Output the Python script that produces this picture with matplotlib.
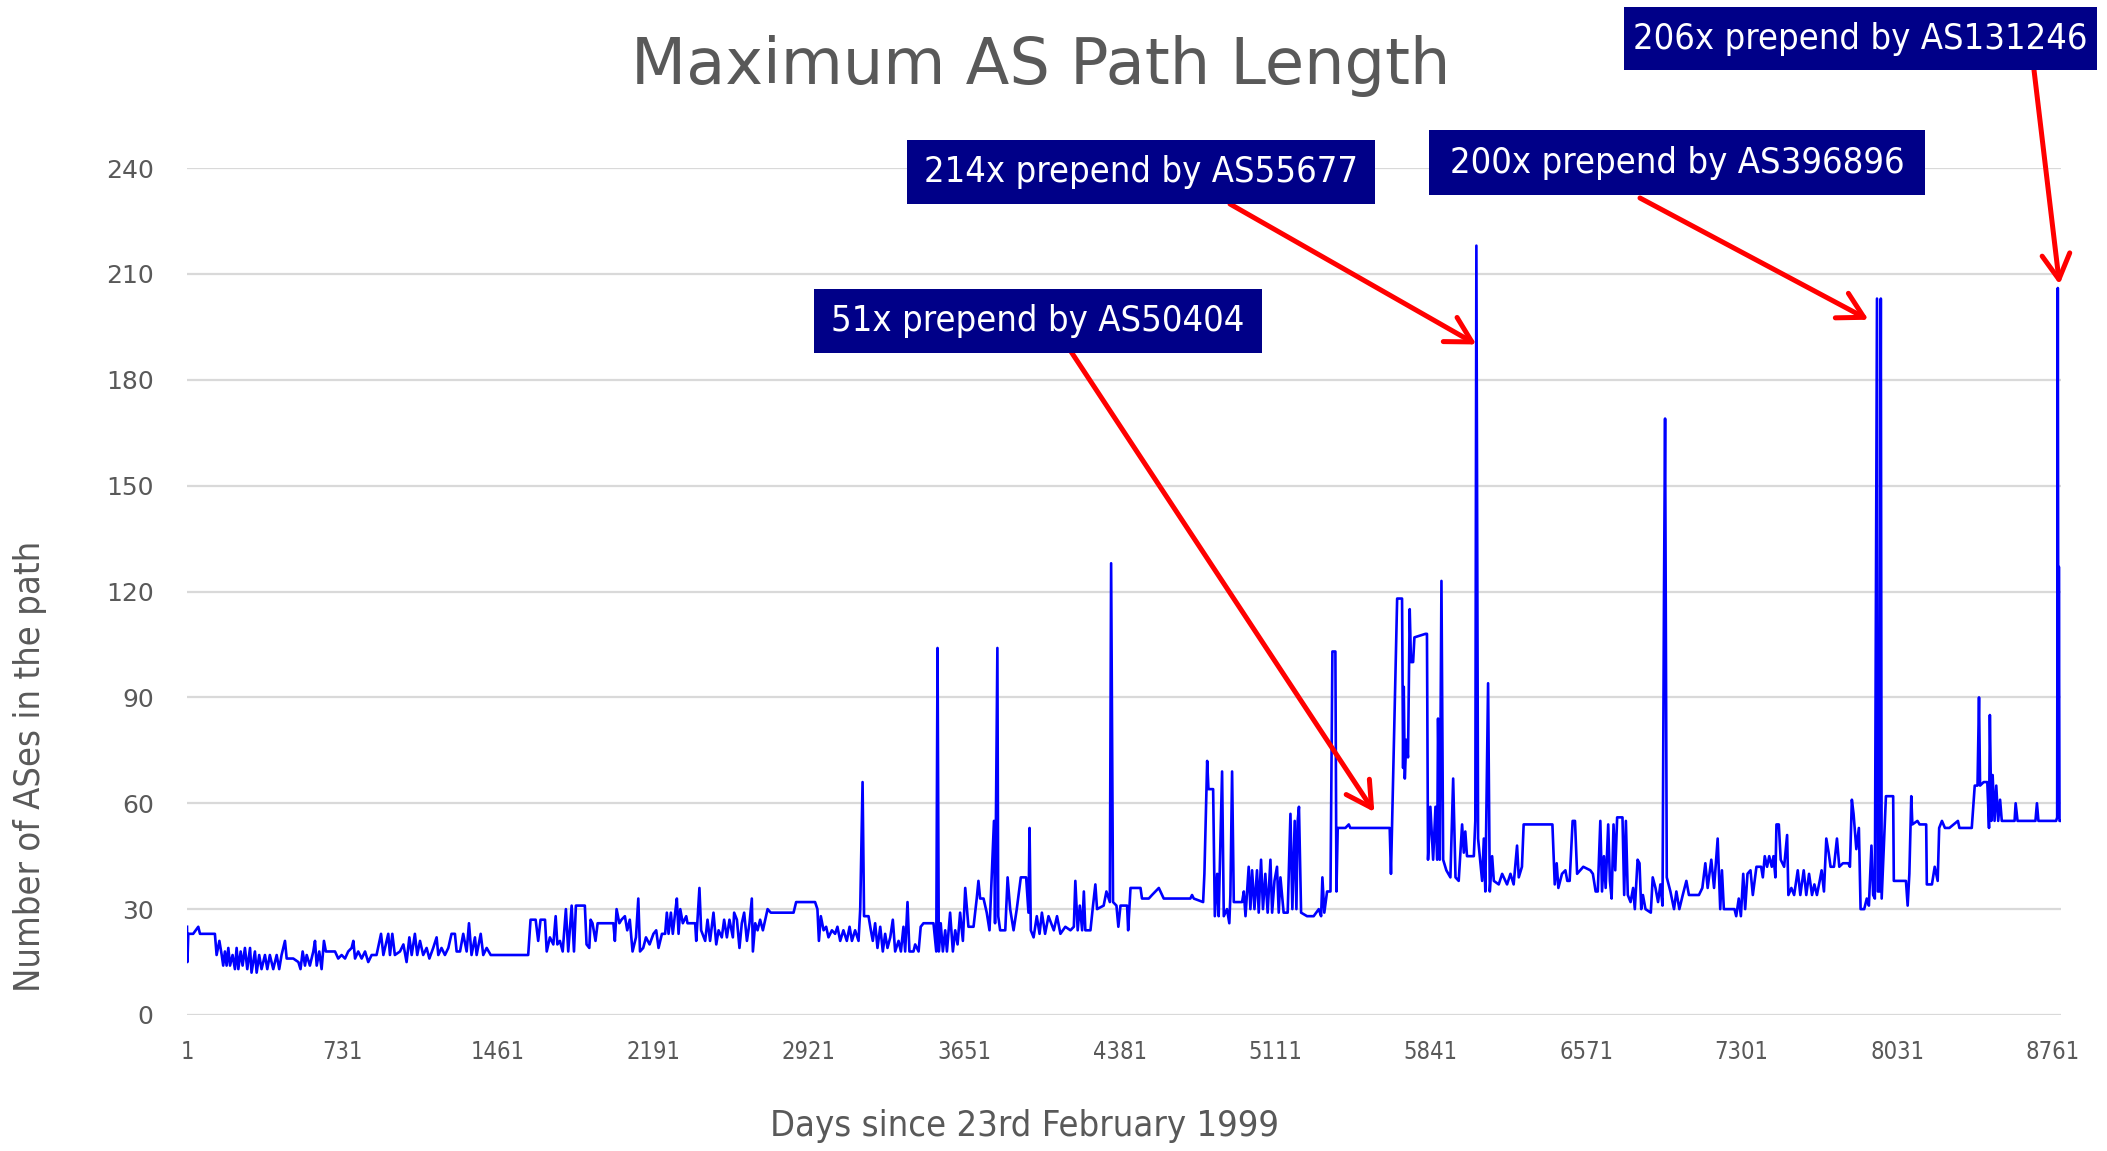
import matplotlib.pyplot as plt
from matplotlib.patches import Rectangle

# daily maximum AS path length (day index since 23 Feb 1999, number of ASes)
days = [
    1, 3, 7, 18, 30, 54, 62, 132, 140, 153, 164, 171, 179, 187, 195, 203, 215, 226, 234, 242,
    253, 262, 273, 284, 297, 304, 320, 328, 340, 351, 367, 378, 390, 406, 422, 434, 445, 461, 469, 500,
    524, 534, 544, 555, 563, 578, 594, 602, 610, 622, 633, 644, 653, 696, 711, 727, 743, 758, 774, 782,
    790, 805, 821, 837, 852, 868, 891, 912, 923, 946, 954, 965, 977, 1001, 1017, 1032, 1045, 1056, 1071, 1082,
    1095, 1110, 1126, 1139, 1157, 1173, 1181, 1196, 1212, 1228, 1243, 1259, 1267, 1283, 1298, 1314, 1325, 1337, 1353, 1361,
    1380, 1392, 1408, 1427, 1463, 1486, 1603, 1614, 1627, 1638, 1650, 1661, 1682, 1690, 1705, 1721, 1732, 1740, 1752, 1765,
    1780, 1791, 1807, 1818, 1827, 1869, 1877, 1890, 1896, 1905, 1919, 1929, 2003, 2010, 2018, 2031, 2041, 2057, 2068, 2080,
    2093, 2109, 2120, 2128, 2143, 2156, 2173, 2191, 2204, 2215, 2231, 2246, 2254, 2262, 2273, 2282, 2293, 2301, 2309, 2317,
    2329, 2345, 2351, 2387, 2392, 2407, 2415, 2434, 2445, 2457, 2473, 2486, 2497, 2512, 2523, 2536, 2548, 2564, 2570, 2583,
    2595, 2606, 2617, 2630, 2642, 2653, 2658, 2669, 2680, 2692, 2705, 2716, 2727, 2742, 2849, 2861, 2935, 2950, 2961, 2968,
    2977, 2990, 3002, 3013, 3029, 3044, 3055, 3068, 3083, 3099, 3112, 3123, 3138, 3154, 3162, 3173, 3180, 3201, 3212, 3221,
    3232, 3243, 3256, 3268, 3279, 3290, 3303, 3315, 3326, 3342, 3353, 3365, 3373, 3384, 3393, 3412, 3420, 3436, 3446, 3459,
    3506, 3519, 3525, 3531, 3540, 3550, 3561, 3569, 3584, 3597, 3608, 3619, 3631, 3644, 3655, 3670, 3694, 3709, 3717, 3725,
    3741, 3756, 3769, 3790, 3795, 3806, 3810, 3819, 3843, 3854, 3866, 3882, 3897, 3916, 3941, 3952, 3957, 3963, 3976, 3991,
    4004, 4015, 4030, 4046, 4071, 4086, 4102, 4125, 4149, 4165, 4172, 4183, 4193, 4204, 4212, 4219, 4243, 4255, 4266, 4274,
    4305, 4318, 4334, 4340, 4349, 4365, 4374, 4384, 4415, 4420, 4431, 4478, 4485, 4517, 4532, 4564, 4587, 4712, 4720, 4728,
    4772, 4778, 4791, 4797, 4819, 4827, 4838, 4845, 4861, 4869, 4884, 4895, 4900, 4908, 4916, 4955, 4963, 4971, 4986, 4994,
    5002, 5013, 5025, 5033, 5044, 5053, 5064, 5075, 5088, 5096, 5107, 5119, 5127, 5135, 5150, 5169, 5182, 5191, 5202, 5210,
    5216, 5222, 5232, 5260, 5276, 5291, 5315, 5326, 5332, 5341, 5354, 5370, 5379, 5393, 5398, 5404, 5440, 5456, 5463, 5648,
    5654, 5683, 5706, 5711, 5714, 5719, 5726, 5734, 5742, 5748, 5758, 5764, 5816, 5823, 5828, 5839, 5852, 5863, 5871, 5875,
    5883, 5891, 5899, 5914, 5933, 5946, 5957, 5972, 5988, 5996, 6003, 6011, 6043, 6050, 6055, 6063, 6082, 6090, 6097, 6110,
    6118, 6129, 6137, 6160, 6176, 6199, 6215, 6230, 6246, 6254, 6269, 6277, 6412, 6423, 6432, 6440, 6457, 6473, 6482, 6493,
    6507, 6518, 6528, 6557, 6590, 6602, 6615, 6625, 6637, 6645, 6654, 6662, 6674, 6682, 6690, 6699, 6707, 6716, 6741, 6749,
    6757, 6766, 6779, 6791, 6799, 6812, 6821, 6829, 6837, 6849, 6874, 6883, 6896, 6908, 6919, 6929, 6936, 6941, 6949, 6966,
    6983, 6994, 7008, 7024, 7041, 7053, 7100, 7116, 7130, 7141, 7158, 7171, 7188, 7200, 7208, 7217, 7267, 7275, 7287, 7297,
    7308, 7317, 7328, 7342, 7353, 7370, 7392, 7400, 7409, 7420, 7430, 7442, 7450, 7459, 7464, 7475, 7484, 7500, 7514, 7520,
    7534, 7547, 7564, 7576, 7592, 7604, 7617, 7631, 7642, 7654, 7667, 7676, 7687, 7698, 7709, 7718, 7734, 7748, 7759, 7776,
    7801, 7809, 7818, 7826, 7839, 7851, 7859, 7876, 7888, 7898, 7910, 7918, 7926, 7936, 7940, 7948, 7954, 7958, 7978, 8012,
    8015, 8072, 8080, 8088, 8097, 8102, 8126, 8136, 8167, 8170, 8194, 8207, 8221, 8228, 8241, 8255, 8276, 8316, 8323, 8381,
    8395, 8408, 8415, 8420, 8437, 8454, 8462, 8466, 8473, 8479, 8488, 8496, 8505, 8514, 8522, 8582, 8587, 8596, 8680, 8687,
    8694, 8777, 8782, 8785, 8788, 8790, 8793, 8800,
]
max_len = [
    25, 15, 23, 23, 23, 25, 23, 23, 17, 21, 17, 14, 18, 14, 19, 14, 17, 13, 19, 13,
    18, 14, 19, 13, 19, 12, 18, 12, 17, 13, 17, 13, 17, 13, 17, 13, 17, 21, 16, 16,
    15, 13, 18, 14, 17, 14, 18, 21, 14, 18, 13, 21, 18, 18, 16, 17, 16, 18, 19, 21,
    16, 18, 16, 18, 15, 17, 17, 23, 17, 23, 17, 23, 17, 18, 20, 15, 22, 17, 23, 17,
    21, 17, 19, 16, 19, 22, 17, 19, 17, 19, 23, 23, 18, 18, 23, 18, 26, 17, 22, 17,
    23, 17, 19, 17, 17, 17, 17, 27, 27, 27, 21, 27, 27, 18, 22, 20, 28, 20, 21, 18,
    30, 18, 31, 18, 31, 31, 20, 19, 27, 26, 21, 26, 26, 21, 30, 26, 27, 28, 24, 27,
    18, 22, 33, 18, 19, 22, 20, 23, 24, 19, 23, 23, 29, 23, 29, 23, 29, 33, 23, 30,
    26, 28, 26, 26, 21, 36, 24, 21, 27, 21, 29, 20, 24, 22, 27, 22, 27, 22, 29, 27,
    19, 26, 29, 21, 26, 33, 18, 26, 24, 27, 24, 27, 30, 29, 29, 32, 32, 32, 30, 21,
    28, 24, 25, 22, 24, 23, 25, 21, 24, 21, 25, 21, 24, 21, 30, 66, 28, 28, 24, 21,
    26, 19, 25, 18, 23, 19, 22, 27, 18, 21, 18, 25, 18, 32, 18, 18, 20, 18, 25, 26,
    26, 18, 104, 18, 26, 18, 24, 18, 29, 18, 24, 20, 29, 21, 36, 25, 25, 33, 38, 33,
    33, 29, 24, 55, 26, 104, 28, 24, 24, 39, 30, 24, 30, 39, 39, 29, 53, 24, 22, 28,
    23, 29, 23, 28, 24, 28, 23, 25, 24, 25, 38, 24, 31, 24, 35, 24, 24, 31, 37, 30,
    31, 35, 32, 128, 32, 31, 25, 31, 31, 24, 36, 36, 33, 33, 34, 36, 33, 33, 34, 33,
    32, 40, 72, 64, 64, 28, 40, 28, 69, 28, 30, 26, 34, 69, 32, 32, 35, 28, 42, 30,
    41, 30, 41, 29, 44, 30, 40, 29, 44, 29, 38, 42, 29, 39, 29, 29, 57, 30, 55, 30,
    55, 59, 29, 28, 28, 28, 30, 28, 39, 29, 35, 35, 103, 103, 35, 53, 53, 54, 53, 53,
    40, 118, 118, 70, 93, 67, 78, 73, 115, 100, 100, 107, 108, 108, 44, 59, 44, 59, 44, 84,
    44, 123, 44, 41, 39, 67, 39, 38, 54, 46, 52, 45, 45, 55, 218, 50, 38, 50, 35, 94,
    35, 45, 38, 37, 40, 37, 40, 37, 48, 39, 42, 54, 54, 37, 43, 36, 40, 41, 38, 38,
    55, 55, 40, 42, 41, 40, 35, 35, 55, 35, 45, 36, 54, 38, 33, 54, 41, 56, 56, 34,
    55, 34, 32, 36, 30, 44, 43, 30, 34, 30, 29, 39, 36, 32, 37, 31, 120, 169, 39, 35,
    30, 35, 30, 34, 38, 34, 34, 36, 43, 36, 44, 36, 50, 30, 41, 30, 30, 28, 33, 28,
    40, 30, 40, 41, 34, 42, 42, 39, 45, 42, 45, 42, 45, 39, 54, 54, 44, 42, 51, 34,
    36, 34, 41, 34, 41, 34, 40, 34, 37, 34, 38, 41, 35, 50, 46, 42, 42, 50, 42, 43,
    43, 42, 61, 57, 47, 53, 30, 30, 33, 31, 48, 34, 33, 203, 35, 35, 203, 33, 62, 62,
    38, 38, 31, 40, 62, 54, 55, 54, 54, 37, 37, 42, 38, 53, 55, 53, 53, 55, 53, 53,
    65, 65, 90, 65, 66, 66, 53, 85, 55, 68, 55, 65, 55, 61, 55, 55, 60, 55, 55, 60,
    55, 55, 56, 206, 56, 127, 55, 55,
]

x_ticks = list(range(1, 8762, 730))
y_ticks = list(range(0, 241, 30))

note_text = ["206x prepend by AS131246", "214x prepend by AS55677",
             "200x prepend by AS396896", "51x prepend by AS50404"]
note_day = [8793, 6055, 7896, 5576]
note_val = [207, 190, 197, 57.5]

W, H = 2107, 1151
# boxes in pixels from the top-left corner: x0, x1, y0, y1
boxes = [(1624, 2097, 7, 70), (907, 1375, 140, 204),
         (1429, 1925, 130, 195), (814, 1262, 289, 353)]
tails = [(2034, 70), (1230, 204), (1640, 198), (1068, 347)]

grey = "#595959"
cond = dict(family="DejaVu Sans", stretch="condensed")

fig = plt.figure(figsize=(W / 100, H / 100), dpi=100)
ax = fig.add_axes([187 / W, 1 - 1015 / H, (2061 - 187) / W, (1015 - 168) / H])

ax.plot(days, max_len, color="#0000ff", lw=1.9)

ax.set_xlim(1, 8800)
ax.set_ylim(0, 240)
ax.set_xticks(x_ticks)
ax.set_yticks(y_ticks)
ax.grid(axis="y", color="#d9d9d9", lw=1.6)
ax.set_axisbelow(True)
for s in ax.spines.values():
    s.set_visible(False)
ax.tick_params(length=0)
ax.tick_params(axis="y", pad=24, labelsize=18, labelcolor=grey)
ax.tick_params(axis="x", pad=18, labelsize=17, labelcolor=grey)
for lab in ax.get_xticklabels():
    lab.set_fontstretch("condensed")

fig.text(1041 / W, 1 - 66 / H, "Maximum AS Path Length", ha="center", va="center",
         fontsize=46, color=grey)
fig.text(30 / W, 1 - 766 / H, "Number of ASes in the path", rotation=90,
         ha="center", va="center", fontsize=26, color=grey, **cond)
fig.text(1024 / W, 1 - 1126 / H, "Days since 23rd February 1999", ha="center",
         va="center", fontsize=26, color=grey, **cond)

for txt, d, v, (x0, x1, y0, y1), (tx, ty) in zip(note_text, note_day, note_val, boxes, tails):
    ax.annotate("", xy=(d, v), xytext=(tx, H - ty), textcoords="figure pixels",
                arrowprops=dict(arrowstyle="->,head_length=0.9,head_width=0.5",
                                color="#ff0000", lw=3.6, mutation_scale=20,
                                shrinkA=0, shrinkB=0))
    fig.add_artist(Rectangle((x0 / W, 1 - y1 / H), (x1 - x0) / W, (y1 - y0) / H,
                             transform=fig.transFigure, fc="#000088", ec="none"))
    fig.text((x0 + x1) / 2 / W, 1 - (y0 + y1) / 2 / H, txt, ha="center", va="center",
             fontsize=26, color="white", **cond)

fig.savefig("out.png", dpi=100)
